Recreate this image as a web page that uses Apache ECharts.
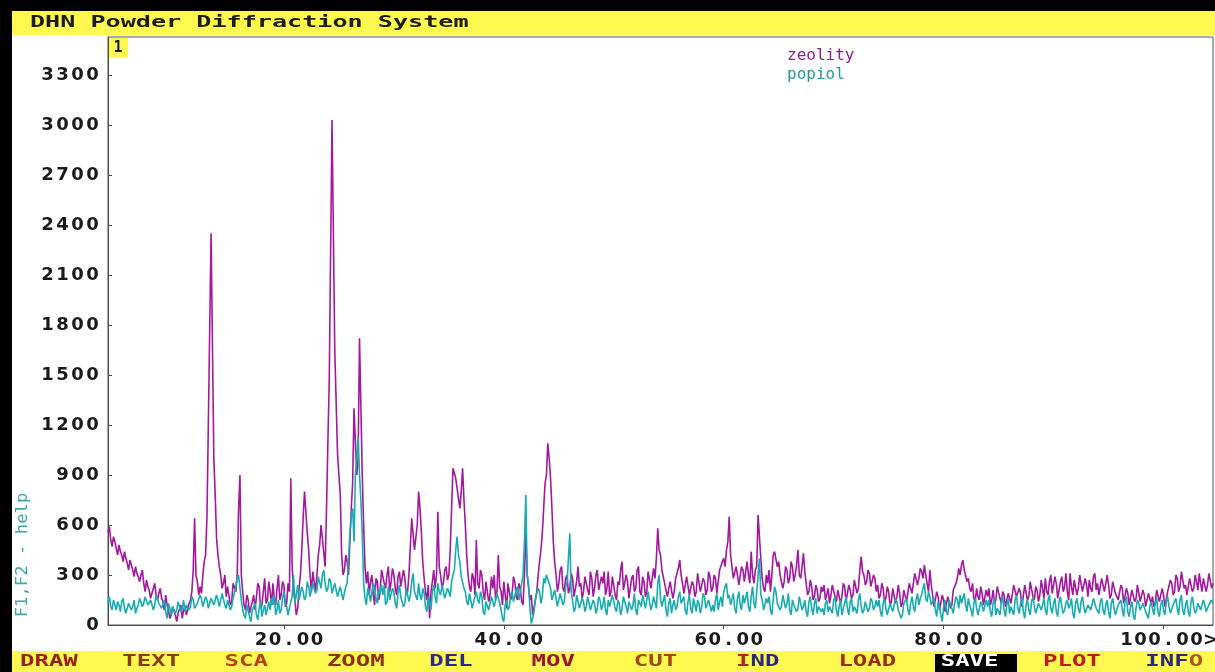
<!DOCTYPE html>
<html>
<head>
<meta charset="utf-8">
<script src="https://cdn.jsdelivr.net/npm/echarts@6/dist/echarts.min.js"></script>
<style>
html, body { margin: 0; padding: 0; background: #ffffff; }
#chart { width: 1215px; height: 672px; }
</style>
</head>
<body>
<div id="chart"></div>
<script>
// Scan parameters (degrees 2-theta)
const scanStart = 4;
const scanStep = 0.125;

// Counts per step, one line per degree (4 ... 104.5)
const zeolity = [
  560, 590, 510, 470, 530, 500, 460, 420,
  480, 440, 420, 380, 440, 400, 370, 330,
  390, 360, 330, 290, 350, 310, 290, 260,
  300, 330, 250, 200, 270, 230, 210, 160,
  170, 220, 250, 180, 150, 190, 220, 160,
  140, 90, 180, 120, 90, 40, 60, 110,
  100, 60, 20, 70, 80, 120, 40, 90,
  110, 60, 70, 130, 150, 200, 330, 640,
  300, 260, 180, 230, 190, 300, 380, 420,
  650, 1200, 1200, 2350, 2350, 1000, 780, 520,
  420, 350, 300, 220, 250, 300, 170, 230,
  220, 120, 140, 250, 260, 200, 300, 700,
  900, 300, 200, 120, 90, 180, 150, 70,
  60, 140, 180, 90, 100, 250, 230, 100,
  120, 200, 280, 130, 150, 260, 200, 120,
  250, 160, 120, 220, 300, 150, 180, 260,
  240, 110, 130, 250, 200, 880, 350, 200,
  150, 60, 100, 220, 300, 450, 650, 800,
  800, 550, 450, 300, 200, 320, 260, 200,
  300, 420, 480, 600, 520, 430, 350, 700,
  1100, 1480, 1480, 3030, 3030, 1650, 1650, 1030,
  900, 780, 420, 300, 330, 420, 380, 300,
  500, 700, 850, 1300, 1300, 900, 1000, 1720,
  1720, 900, 600, 350, 250, 320, 180, 260,
  300, 180, 120, 280, 260, 150, 200, 330,
  330, 250, 220, 300, 350, 200, 260, 340,
  300, 220, 180, 290, 320, 230, 240, 330,
  280, 180, 200, 310, 300, 640, 640, 450,
  450, 600, 800, 700, 560, 380, 280, 200,
  150, 240, 40, 200, 260, 330, 220, 300,
  680, 350, 300, 220, 250, 330, 350, 270,
  300, 450, 700, 940, 940, 880, 820, 760,
  700, 800, 940, 750, 600, 420, 300, 230,
  200, 310, 280, 180, 510, 250, 220, 330,
  300, 200, 150, 260, 250, 140, 180, 290,
  220, 300, 150, 200, 420, 230, 200, 120,
  260, 180, 100, 250, 240, 150, 180, 290,
  260, 170, 150, 250, 220, 140, 120, 300,
  560, 300, 300, 150, 180, 60, 60, 150,
  200, 300, 380, 450, 550, 700, 850, 900,
  1090, 1000, 880, 700, 500, 380, 300, 200,
  250, 330, 350, 220, 200, 280, 300, 190,
  220, 310, 280, 170, 180, 260, 350, 230,
  250, 160, 200, 290, 300, 210, 180, 320,
  280, 170, 220, 300, 330, 210, 200, 290,
  250, 320, 180, 220, 320, 170, 200, 290,
  280, 180, 150, 260, 240, 330, 380, 210,
  200, 300, 260, 160, 170, 280, 300, 200,
  220, 330, 350, 200, 180, 290, 260, 170,
  200, 320, 310, 220, 230, 340, 280, 400,
  580, 450, 420, 330, 320, 250, 210, 170,
  180, 260, 250, 160, 200, 280, 290, 340,
  390, 300, 250, 190, 200, 290, 280, 180,
  170, 260, 240, 170, 200, 310, 300, 200,
  190, 280, 260, 180, 210, 320, 290, 200,
  220, 300, 280, 190, 200, 330, 320, 380,
  400, 350, 450, 500, 650, 420, 350, 280,
  280, 350, 300, 240, 250, 350, 330, 260,
  270, 380, 300, 250, 440, 300, 250, 330,
  350, 660, 660, 400, 280, 220, 200, 300,
  250, 330, 200, 300, 420, 440, 440, 350,
  380, 300, 300, 220, 260, 350, 330, 250,
  280, 380, 350, 260, 300, 360, 450, 300,
  280, 350, 430, 320, 250, 180, 200, 270,
  230, 150, 170, 240, 210, 140, 160, 230,
  200, 240, 150, 160, 220, 130, 180, 240,
  250, 170, 140, 210, 200, 130, 170, 250,
  230, 140, 150, 240, 210, 160, 180, 270,
  260, 190, 220, 330, 410, 320, 300, 240,
  260, 330, 310, 230, 220, 300, 280, 200,
  240, 160, 180, 250, 220, 140, 160, 230,
  200, 120, 140, 220, 210, 130, 170, 240,
  190, 110, 130, 210, 220, 140, 150, 250,
  260, 190, 200, 310, 300, 240, 280, 340,
  320, 280, 360, 300, 250, 200, 330, 240,
  180, 110, 120, 200, 170, 90, 100, 180,
  150, 80, 90, 170, 160, 100, 120, 210,
  200, 250, 280, 340, 300, 360, 390, 330,
  320, 260, 280, 220, 200, 250, 160, 140,
  220, 170, 150, 230, 190, 120, 130, 210,
  170, 220, 120, 150, 210, 130, 150, 230,
  240, 160, 130, 200, 180, 110, 100, 190,
  200, 130, 140, 240, 250, 170, 160, 220,
  190, 110, 120, 240, 230, 150, 170, 260,
  260, 170, 150, 230, 210, 140, 180, 270,
  220, 160, 280, 200, 180, 260, 300, 190,
  200, 290, 250, 160, 170, 260, 290, 200,
  230, 310, 200, 150, 310, 230, 180, 270,
  260, 180, 220, 300, 300, 200, 190, 280,
  240, 170, 270, 220, 200, 290, 310, 210,
  250, 180, 190, 280, 290, 200, 210, 300,
  240, 160, 180, 260, 270, 190, 200, 150,
  160, 240, 220, 130, 140, 220, 190, 120,
  130, 210, 200, 140, 160, 240, 230, 140,
  150, 210, 180, 110, 120, 190, 200, 130,
  170, 110, 130, 210, 200, 140, 150, 220,
  180, 110, 120, 200, 210, 270, 250, 180,
  200, 300, 280, 200, 230, 320, 320, 220,
  240, 180, 190, 280, 290, 200, 220, 300,
  260, 210, 310, 250, 200, 280, 270, 200,
  240, 310, 300, 220, 250
];

const popiol = [
  130, 170, 110, 90, 150, 120, 90, 140,
  120, 80, 140, 160, 100, 70, 80, 130,
  130, 90, 110, 150, 70, 100, 120, 160,
  150, 110, 130, 170, 160, 120, 110, 150,
  140, 90, 120, 180, 170, 130, 130, 100,
  110, 150, 80, 40, 130, 100, 60, 110,
  120, 70, 90, 140, 140, 80, 100, 150,
  80, 120, 130, 90, 110, 170, 150, 100,
  90, 130, 140, 180, 160, 110, 120, 170,
  150, 100, 110, 160, 170, 120, 130, 180,
  150, 110, 120, 190, 180, 120, 100, 150,
  140, 90, 110, 160, 170, 230, 280, 300,
  300, 150, 90, 60, 40, 120, 110, 50,
  20, 90, 80, 130, 60, 30, 100, 140,
  50, 90, 120, 60, 70, 140, 90, 160,
  120, 180, 60, 90, 150, 70, 90, 160,
  200, 130, 110, 60, 60, 140, 170, 300,
  130, 180, 240, 150, 150, 230, 200, 150,
  170, 260, 230, 170, 180, 250, 250, 190,
  210, 290, 280, 220, 300, 330, 250, 200,
  220, 280, 260, 190, 200, 250, 240, 170,
  180, 230, 220, 150, 160, 230, 250, 400,
  550, 650, 700, 500, 900, 1000, 1130, 900,
  750, 550, 250, 160, 120, 220, 200, 140,
  150, 250, 230, 160, 130, 210, 190, 240,
  180, 240, 120, 140, 230, 150, 160, 220,
  200, 130, 100, 190, 240, 170, 170, 110,
  130, 220, 210, 140, 180, 260, 310, 200,
  200, 150, 250, 180, 150, 220, 190, 110,
  80, 170, 140, 90, 200, 240, 170, 130,
  250, 200, 180, 240, 230, 160, 150, 220,
  200, 170, 260, 300, 330, 450, 530, 420,
  380, 290, 300, 220, 200, 140, 120, 190,
  180, 100, 90, 170, 200, 150, 130, 200,
  170, 80, 60, 140, 150, 90, 100, 170,
  180, 110, 120, 190, 200, 130, 90, 40,
  20, 120, 150, 90, 110, 180, 200, 140,
  140, 210, 230, 150, 160, 250, 300, 500,
  780, 300, 250, 100, 10, 40, 80, 160,
  150, 220, 200, 130, 170, 280, 250, 300,
  300, 250, 220, 150, 160, 210, 200, 110,
  120, 190, 180, 120, 140, 230, 250, 400,
  550, 200, 150, 80, 100, 180, 170, 100,
  90, 160, 140, 80, 110, 170, 160, 90,
  80, 150, 130, 70, 100, 170, 150, 90,
  120, 170, 90, 60, 150, 110, 110, 180,
  170, 100, 80, 150, 130, 60, 100, 170,
  160, 110, 70, 140, 140, 90, 120, 190,
  90, 60, 150, 130, 110, 180, 180, 100,
  100, 200, 140, 90, 120, 170, 160, 100,
  250, 300, 160, 110, 120, 180, 90, 50,
  130, 160, 70, 120, 150, 90, 110, 170,
  200, 130, 120, 170, 90, 60, 140, 180,
  100, 70, 160, 120, 80, 150, 130, 70,
  110, 190, 170, 100, 90, 150, 140, 80,
  120, 80, 150, 190, 90, 140, 170, 110,
  200, 230, 250, 160, 180, 120, 130, 190,
  100, 70, 160, 200, 120, 90, 180, 130,
  140, 200, 110, 80, 170, 230, 130, 100,
  200, 300, 400, 180, 150, 90, 100, 160,
  130, 170, 90, 60, 150, 230, 200, 130,
  140, 90, 110, 180, 170, 100, 130, 190,
  90, 60, 150, 120, 120, 80, 100, 170,
  160, 90, 110, 150, 80, 50, 140, 170,
  100, 60, 130, 160, 70, 110, 120, 80,
  100, 60, 130, 150, 80, 110, 120, 70,
  150, 170, 90, 50, 110, 150, 60, 100,
  130, 170, 100, 60, 140, 160, 80, 110,
  120, 70, 150, 190, 110, 70, 90, 140,
  130, 80, 100, 160, 140, 90, 110, 150,
  110, 150, 80, 50, 130, 160, 100, 60,
  70, 130, 120, 80, 90, 160, 140, 90,
  100, 40, 60, 130, 120, 160, 90, 60,
  130, 170, 110, 80, 150, 190, 120, 160,
  180, 220, 250, 160, 140, 200, 170, 120,
  120, 160, 90, 50, 140, 110, 60, 20,
  110, 150, 80, 60, 150, 120, 100, 70,
  130, 170, 150, 100, 180, 130, 140, 190,
  120, 80, 160, 120, 90, 50, 130, 160,
  100, 60, 70, 140, 120, 80, 90, 150,
  110, 150, 80, 50, 130, 160, 60, 100,
  100, 60, 140, 170, 90, 50, 120, 160,
  70, 110, 110, 60, 150, 180, 100, 70,
  130, 170, 80, 40, 120, 150, 90, 60,
  140, 170, 110, 70, 70, 130, 130, 90,
  120, 160, 90, 60, 150, 180, 100, 70,
  130, 160, 80, 50, 140, 170, 110, 70,
  90, 130, 150, 100, 120, 160, 70, 40,
  130, 160, 100, 70, 140, 170, 110, 70,
  80, 120, 130, 90, 100, 160, 150, 100,
  110, 70, 140, 160, 90, 60, 120, 150,
  80, 40, 130, 160, 100, 60, 70, 120,
  120, 150, 90, 50, 140, 170, 80, 50,
  110, 140, 60, 30, 100, 150, 130, 90,
  90, 130, 120, 80, 70, 40, 110, 140,
  100, 60, 130, 160, 80, 50, 120, 150,
  90, 60, 140, 170, 110, 70, 70, 120,
  130, 160, 100, 60, 150, 180, 90, 60,
  120, 150, 80, 50, 140, 170, 110, 70,
  90, 130, 130, 90, 100, 150, 120, 80,
  80, 120, 110, 150, 130
];

const seriesNames = ['zeolity', 'popiol'];
const xTicks = [20, 40, 60, 80, 100];
const yTicks = [0, 300, 600, 900, 1200, 1500, 1800, 2100, 2400, 2700, 3000, 3300];
const menuLabels = ['DRAW', 'TEXT', 'SCA', 'ZOOM', 'DEL', 'MOV', 'CUT', 'IND', 'LOAD', 'SAVE', 'PLOT', 'INFO'];
const titleText = 'DHN Powder Diffraction System';
const helpText = 'F1,F2 - help';

const PURPLE = '#a3189f';
const TEAL = '#17adb0';
const YELLOW = '#fdf94f';
const MONO = '"DejaVu Sans Mono", "Liberation Mono", monospace';

function toPairs(values) {
  return values.map((v, i) => [scanStart + i * scanStep, v]);
}

// Axis labels drawn as fixed-width character cells, like a screen font
function cells(s) {
  return s.split('').map(ch => '{c|' + ch + '}').join('');
}
const labelFont = { fontFamily: '"DejaVu Sans", sans-serif', fontWeight: 'bold', fontSize: 18, color: '#1a1a1a' };
const yRich = {
  c: Object.assign({ width: 15, align: 'center' }, labelFont)
};
const xRich = {
  c: Object.assign({ width: 14, align: 'center' }, labelFont),
  p: { width: 10, fontSize: 18 }
};

// Menu bar entries
const menuInk = {
  DRAW: '#9a1f17', TEXT: '#8a3a10', SCA: '#b5420f', ZOOM: '#8c320c', DEL: '#2c2a8c',
  MOV: '#9e1436', CUT: '#a2480f', LOAD: '#9c2c14', SAVE: '#ffffff', PLOT: '#c01b1b'
};
const menuFont = { fontFamily: MONO, fontWeight: 'bold', fontSize: 16 };
function menuText(label) {
  if (label === 'IND') return { text: '{r|I}{n|ND}' };
  if (label === 'INFO') return { text: '{n|INF}{o|O}' };
  return { text: '{m|' + label + '}', ink: menuInk[label] };
}

const graphics = [
  { type: 'rect', z: 20, shape: { x: 0, y: 0, width: 1215, height: 11 }, style: { fill: '#000' } },
  { type: 'rect', z: 20, shape: { x: 0, y: 0, width: 12, height: 672 }, style: { fill: '#000' } },
  { type: 'rect', z: 20, shape: { x: 12, y: 11, width: 1203, height: 24 }, style: { fill: YELLOW } },
  { type: 'text', z: 21, x: 30, y: 23, scaleX: 1.57,
    style: { text: titleText, font: 'bold 16px ' + MONO, fill: '#1c1c1c', verticalAlign: 'middle' } },
  { type: 'rect', z: 20, shape: { x: 12, y: 651, width: 1203, height: 21 }, style: { fill: YELLOW } },
  { type: 'rect', z: 21, shape: { x: 935, y: 654, width: 82, height: 18 }, style: { fill: '#000' } },
  { type: 'rect', z: 20, shape: { x: 109, y: 38, width: 19, height: 20 }, style: { fill: YELLOW } },
  { type: 'text', z: 21, x: 118, y: 48,
    style: { text: '1', font: 'bold 15px ' + MONO, fill: '#1c1c1c', align: 'center', verticalAlign: 'middle' } },
  { type: 'text', z: 21, x: 23, y: 555, rotation: Math.PI / 2, scaleX: 1.15,
    style: { text: helpText, font: '15px ' + MONO, fill: '#36a9a9', align: 'center', verticalAlign: 'middle' } }
];

menuLabels.forEach((label, i) => {
  const m = menuText(label);
  graphics.push({
    type: 'text', z: 22, x: 20 + i * 102.3, y: 662, scaleX: 1.5,
    style: {
      text: m.text,
      verticalAlign: 'middle',
      rich: {
        m: Object.assign({ fill: m.ink || '#222' }, menuFont),
        r: Object.assign({ fill: '#b2261a' }, menuFont),
        n: Object.assign({ fill: '#2a2a82' }, menuFont),
        o: Object.assign({ fill: '#b0581a' }, menuFont)
      }
    }
  });
});

const chart = echarts.init(document.getElementById('chart'), null, { renderer: 'canvas' });

chart.setOption({
  animation: false,
  backgroundColor: '#ffffff',
  grid: {
    left: 108, right: 2, top: 37, bottom: 47,
    outerBoundsMode: 'none',
    containLabel: false,
    show: true, borderColor: '#555555', borderWidth: 1, backgroundColor: '#ffffff'
  },
  legend: {
    orient: 'vertical',
    left: 777, top: 43,
    itemWidth: 0, itemHeight: 16, itemGap: 3,
    selectedMode: false,
    textStyle: { fontFamily: MONO, fontSize: 16 },
    data: [
      { name: seriesNames[0], icon: 'none', textStyle: { color: '#8e1f8c' } },
      { name: seriesNames[1], icon: 'none', textStyle: { color: '#23999b' } }
    ]
  },
  xAxis: {
    type: 'value',
    min: scanStart,
    max: 104.5,
    interval: 20,
    axisLine: { show: true, onZero: false, lineStyle: { color: '#4a4a4a', width: 1 } },
    axisTick: { show: true, inside: false, length: 4, customValues: xTicks, lineStyle: { color: '#4a4a4a' } },
    splitLine: { show: false },
    axisLabel: {
      customValues: xTicks,
      margin: 6,
      formatter: v => '{p| }' + cells(v.toFixed(2) + (v === 100 ? '>' : '')),
      rich: xRich
    }
  },
  yAxis: {
    type: 'value',
    min: 0,
    max: 3528,
    interval: 300,
    axisLine: { show: true, lineStyle: { color: '#4a4a4a', width: 1 } },
    axisTick: { show: true, inside: true, length: 4, customValues: yTicks, lineStyle: { color: '#4a4a4a' } },
    splitLine: { show: false },
    axisLabel: {
      customValues: yTicks,
      margin: 8,
      formatter: v => cells(String(v)),
      rich: yRich
    }
  },
  series: [
    {
      name: seriesNames[0], type: 'line', data: toPairs(zeolity),
      showSymbol: false, color: PURPLE,
      lineStyle: { color: PURPLE, width: 1.6 }
    },
    {
      name: seriesNames[1], type: 'line', data: toPairs(popiol),
      showSymbol: false, color: TEAL,
      lineStyle: { color: TEAL, width: 1.6 }
    }
  ],
  graphic: graphics
});
</script>
</body>
</html>
